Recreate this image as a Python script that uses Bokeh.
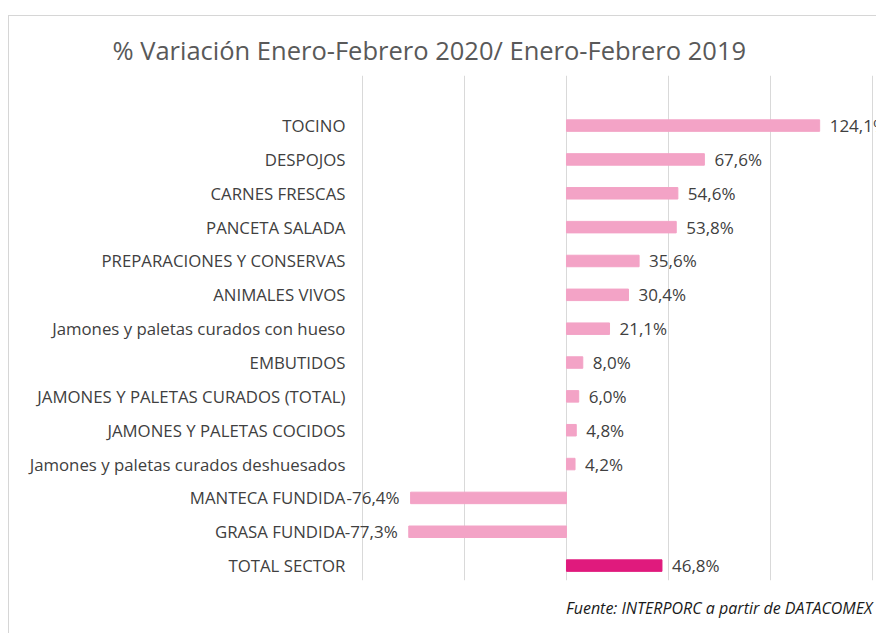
from bokeh.plotting import figure
from bokeh.models import ColumnDataSource, FixedTicker, Range1d, Title
from bokeh.core.properties import value
from bokeh.embed import file_html
from bokeh.resources import INLINE

categories = [
    "TOCINO", "DESPOJOS", "CARNES FRESCAS", "PANCETA SALADA",
    "PREPARACIONES Y CONSERVAS", "ANIMALES VIVOS",
    "Jamones y paletas curados con hueso", "EMBUTIDOS",
    "JAMONES Y PALETAS CURADOS (TOTAL)", "JAMONES Y PALETAS COCIDOS",
    "Jamones y paletas curados deshuesados", "MANTECA FUNDIDA",
    "GRASA FUNDIDA", "TOTAL SECTOR",
]
values = [124.1, 67.6, 54.6, 53.8, 35.6, 30.4, 21.1, 8.0, 6.0, 4.8, 4.2, -76.4, -77.3, 46.8]
grid_ticks = [-100, -50, 0, 50, 100, 150]

LIGHT = "#f3a3c6"
DARK = "#e01a7d"
FONT = "Open Sans"
TXT = "#404040"

pos = list(range(len(categories)))
colors = [DARK if c == "TOTAL SECTOR" else LIGHT for c in categories]
labels = [("%.1f" % v).replace(".", ",") + "%" for v in values]
axis_x = [min(grid_ticks)] * len(categories)

src = ColumnDataSource(dict(y=pos, right=values, color=colors, cat=categories, ax=axis_x))
pos_src = ColumnDataSource(dict(
    y=[p for p, v in zip(pos, values) if v >= 0],
    x=[v for v in values if v >= 0],
    t=[l for l, v in zip(labels, values) if v >= 0]))
neg_src = ColumnDataSource(dict(
    y=[p for p, v in zip(pos, values) if v < 0],
    x=[v for v in values if v < 0],
    t=[l for l, v in zip(labels, values) if v < 0]))

p = figure(frame_width=867, frame_height=505, output_backend="svg", toolbar_location=None,
           x_range=Range1d(-273.0, 151.96), y_range=Range1d(13.44, -1.48),
           min_border_left=0, min_border_right=0, min_border_top=59,
           min_border_bottom=52,
           styles={"margin-top": "15px", "margin-left": "8px",
                   "border-top": "1px solid #d6d6d6",
                   "border-left": "1px solid #d6d6d6"})

p.hbar(y="y", left=0, right="right", height=0.34, color="color", source=src)

# category labels, right-aligned at the left end of the value scale
p.text(x="ax", y="y", text="cat", source=src, x_offset=-17,
       text_align="right", text_baseline="middle",
       text_font=value(FONT), text_font_size="16.8px", text_color=TXT)

p.text(x="x", y="y", text="t", source=pos_src, x_offset=10,
       text_align="left", text_baseline="middle",
       text_font=value(FONT), text_font_size="17px", text_color=TXT)
p.text(x="x", y="y", text="t", source=neg_src, x_offset=-11,
       text_align="right", text_baseline="middle",
       text_font=value(FONT), text_font_size="17px", text_color=TXT)

p.title.text = "% Variación Enero-Febrero 2020/ Enero-Febrero 2019"
p.title.align = "left"
p.title.offset = 103
p.title.standoff = 17
p.title.text_font = FONT
p.title.text_font_size = "25.5px"
p.title.text_font_style = "normal"
p.title.text_color = "#595959"

foot = Title(text="Fuente: INTERPORC  a partir de DATACOMEX", align="right",
             text_font=FONT, text_font_size="16px",
             text_font_style="italic", text_color="#1a1a1a", standoff=29)
p.add_layout(foot, "below")

p.xaxis.visible = False
p.yaxis.visible = False
p.xaxis.ticker = FixedTicker(ticks=grid_ticks)
p.xgrid.ticker = FixedTicker(ticks=grid_ticks)
p.xgrid.grid_line_color = "#d9d9d9"
p.ygrid.visible = False

p.outline_line_color = None
p.background_fill_color = "white"
p.border_fill_color = "white"

open("out.html", "w").write(file_html(p, INLINE))
